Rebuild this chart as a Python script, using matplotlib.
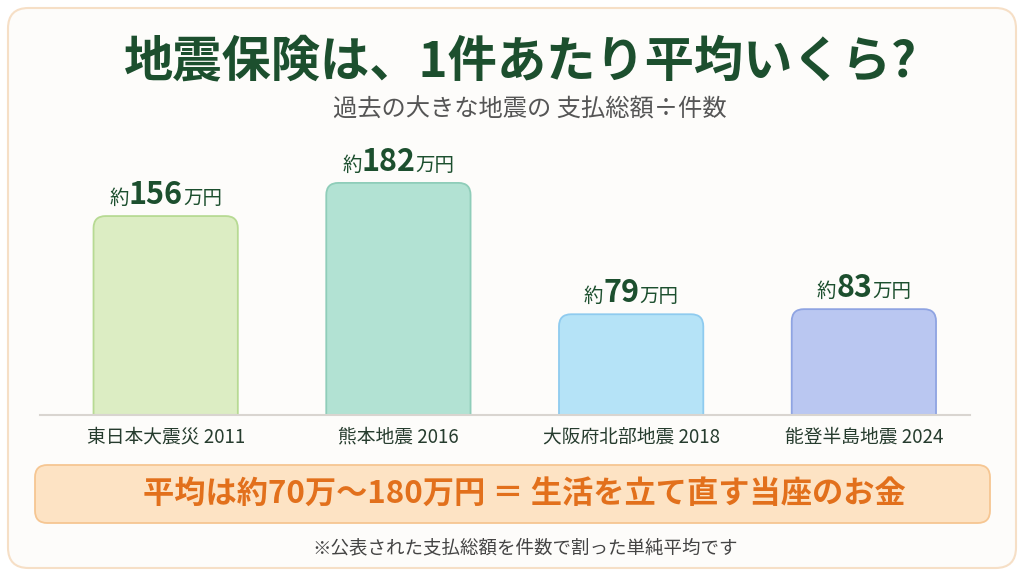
import matplotlib.pyplot as plt
from matplotlib.patches import FancyBboxPatch

plt.rcParams['font.family'] = ['Noto Sans CJK JP', 'DejaVu Sans']

events = ['東日本大震災 2011', '熊本地震 2016', '大阪府北部地震 2018', '能登半島地震 2024']
avg_pay = [156, 182, 79, 83]  # 万円
bar_fill = ['#dcedc3', '#b2e2d3', '#b5e3f7', '#bac7f1']
bar_edge = ['#b7da93', '#8fcdb9', '#8fcbef', '#8fa4e2']

title = '地震保険は、1件あたり平均いくら?'
subtitle = '過去の大きな地震の 支払総額÷件数'
banner = '平均は約70万〜180万円 ＝ 生活を立て直す当座のお金'
note = '※公表された支払総額を件数で割った単純平均です'

green = '#1c4f2e'
W, H = 1024, 576

fig = plt.figure(figsize=(W / 100, H / 100), dpi=100)
fig.patch.set_facecolor('white')

# outer card, kept behind the axes
card = FancyBboxPatch((8 / W, 8 / H), 1008 / W, 560 / H,
                      boxstyle='round,pad=0,rounding_size=0.02',
                      mutation_aspect=W / H, transform=fig.transFigure,
                      facecolor='#fdfcfa', edgecolor='#f6dfc6', lw=1.5,
                      zorder=-5)
fig.patches.append(card)

fig.text(521 / W, 1 - 62 / H, title, ha='center', va='center', fontsize=35.5,
         fontweight='bold', color=green)
fig.text(530 / W, 1 - 110 / H, subtitle, ha='center', va='center', fontsize=17.5,
         color='#555555')

# bar area
ax = fig.add_axes([40 / W, 1 - 415 / H, 930 / W, 265 / H])
ax.set_xlim(-0.54, 3.456)
ax.set_ylim(0, 207.8)
ax.axis('off')

bw = 0.62
for i, v in enumerate(avg_pay):
    p = FancyBboxPatch((i - bw / 2, -30), bw, v + 30,
                       boxstyle='round,pad=0,rounding_size=0.052',
                       mutation_aspect=182, facecolor=bar_fill[i],
                       edgecolor=bar_edge[i], lw=1.3)
    ax.add_patch(p)
    ax.text(i, -17, events[i], ha='center', va='center', fontsize=13.5,
            color='#263c2e', clip_on=False)
ax.axhline(0, color='#d9d5d0', lw=1.5, clip_on=False)

# value labels with mixed sizes
fig.canvas.draw()
r = fig.canvas.get_renderer()
for i, v in enumerate(avg_pay):
    parts = [('約', 14, 'normal'), (str(v), 22, 'bold'), ('万円', 14, 'normal')]
    texts = [fig.text(0, 0, s, fontsize=fs, fontweight=fw, color=green,
                      va='baseline', ha='left') for s, fs, fw in parts]
    widths = [t.get_window_extent(r).width for t in texts]
    cx, cy = ax.transData.transform((i, v))
    x = cx - sum(widths) / 2
    for t, wd in zip(texts, widths):
        t.set_position((x / W, (cy + 12) / H))
        x += wd

# summary banner
box = FancyBboxPatch((35 / W, 1 - 523 / H), 955 / W, 58 / H,
                     boxstyle='round,pad=0,rounding_size=0.012',
                     mutation_aspect=W / H, transform=fig.transFigure,
                     facecolor='#fde3c4', edgecolor='#f6c692', lw=1.3)
fig.patches.append(box)
fig.text(524 / W, 1 - 494 / H, banner, ha='center', va='center', fontsize=22.5,
         fontweight='bold', color='#e2701c')

fig.text(525 / W, 1 - 548 / H, note, ha='center', va='center', fontsize=13.3,
         color='#444444')

fig.savefig('out.png', dpi=100)
